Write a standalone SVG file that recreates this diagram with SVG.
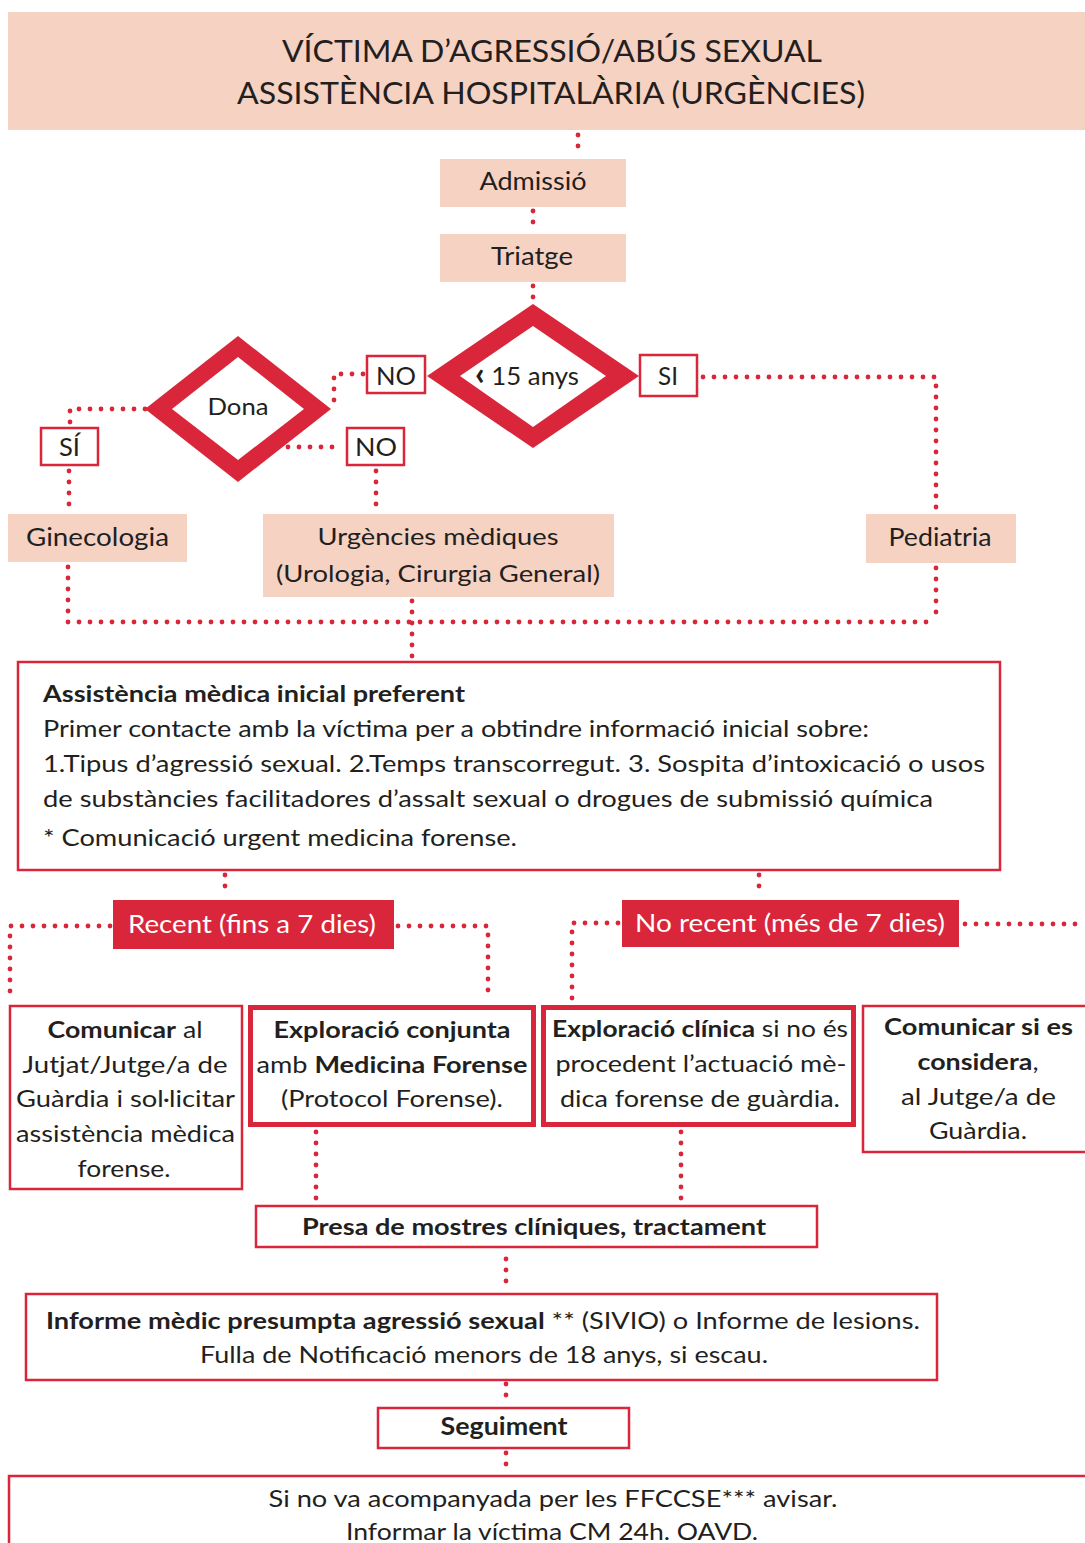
<svg xmlns="http://www.w3.org/2000/svg" width="1085" height="1543" viewBox="0 0 1085 1543">
<style>
  text { font-family: Lato, "Noto Sans", "Liberation Sans", sans-serif; fill: #231F20; }
  .c { text-anchor: middle; }
  .b { font-weight: 700; }
  .w { fill: #FFFFFF; }
  .pink { fill: #F6D2C3; }
  .box { fill: #FFFFFF; stroke: #D9263A; stroke-width: 2.5; }
  .thick { fill: #FFFFFF; stroke: #D9263A; stroke-width: 5; }
  .red { fill: #D9263A; }
  .dot { fill: none; stroke: #D9263A; stroke-width: 4.8; stroke-linecap: round; stroke-dasharray: 0 11; }
</style>
<rect width="1085" height="1543" fill="#FFFFFF"/>

<g id="connectors">
  <path class="dot" d="M578 135 V155"/>
  <path class="dot" d="M533 211 V230"/>
  <path class="dot" d="M533 286 V300"/>
  <path class="dot" d="M363 374 H334 V406"/>
  <path class="dot" d="M145 409 H70 V423"/>
  <path class="dot" d="M69 471 V510"/>
  <path class="dot" d="M288 447 H343"/>
  <path class="dot" d="M376 471 V510"/>
  <path class="dot" d="M703 377 H936 V510"/>
  <path class="dot" d="M936 568 V622"/>
  <path class="dot" d="M68 567 V622 H936"/>
  <path class="dot" d="M412 601 V657"/>
  <path class="dot" d="M225 875 V897"/>
  <path class="dot" d="M759 875 V897"/>
  <path class="dot" d="M110 926 H10 V1000"/>
  <path class="dot" d="M398 926 H488 V1000"/>
  <path class="dot" d="M618 923 H572 V1000"/>
  <path class="dot" d="M965 924 H1085"/>
  <path class="dot" d="M316 1132 V1200"/>
  <path class="dot" d="M681 1132 V1200"/>
  <path class="dot" d="M506 1259 V1289"/>
  <path class="dot" d="M506 1384 V1403"/>
  <path class="dot" d="M506 1453 V1471"/>
</g>

<g id="header">
  <rect class="pink" x="8" y="12" width="1085" height="118"/>
  <text class="c" x="552" y="62" font-size="31" textLength="540" lengthAdjust="spacingAndGlyphs">VÍCTIMA D’AGRESSIÓ/ABÚS SEXUAL</text>
  <text class="c" x="551" y="104" font-size="31" textLength="628" lengthAdjust="spacingAndGlyphs">ASSISTÈNCIA HOSPITALÀRIA (URGÈNCIES)</text>
</g>

<g id="admissio">
  <rect class="pink" x="440" y="159" width="186" height="48"/>
  <text class="c" x="533" y="190" font-size="25" textLength="107" lengthAdjust="spacingAndGlyphs">Admissió</text>
</g>

<g id="triatge">
  <rect class="pink" x="440" y="234" width="186" height="48"/>
  <text class="c" x="532" y="265" font-size="25" textLength="82" lengthAdjust="spacingAndGlyphs">Triatge</text>
</g>

<g id="decisio-15">
  <polygon class="red" points="533,304 639,376 533,448 427,376"/>
  <polygon fill="#FFFFFF" points="533,326 606,376 533,427 460,376"/>
  <text class="c" x="527" y="385" font-size="25" textLength="104" lengthAdjust="spacingAndGlyphs"><tspan font-weight="900" font-size="32">‹</tspan> 15 anys</text>
</g>

<g id="si">
  <rect class="box" x="640" y="355" width="57" height="41"/>
  <text class="c" x="668" y="385" font-size="25" textLength="20" lengthAdjust="spacingAndGlyphs">SI</text>
</g>

<g id="no-1">
  <rect class="box" x="367" y="356" width="58" height="37"/>
  <text class="c" x="396" y="385" font-size="25" textLength="40" lengthAdjust="spacingAndGlyphs">NO</text>
</g>

<g id="decisio-dona">
  <polygon class="red" points="238,336 331,409 238,482 145,409"/>
  <polygon fill="#FFFFFF" points="238,357 304,409 238,460 172,409"/>
  <text class="c" x="238" y="415" font-size="24" textLength="61" lengthAdjust="spacingAndGlyphs">Dona</text>
</g>

<g id="no-2">
  <rect class="box" x="347" y="428" width="57" height="37"/>
  <text class="c" x="376" y="456" font-size="25" textLength="42" lengthAdjust="spacingAndGlyphs">NO</text>
</g>

<g id="si-dona">
  <rect class="box" x="41" y="428" width="57" height="37"/>
  <text class="c" x="69.5" y="456" font-size="25" textLength="21" lengthAdjust="spacingAndGlyphs">SÍ</text>
</g>

<g id="ginecologia">
  <rect class="pink" x="8" y="514" width="179" height="48"/>
  <text class="c" x="97.5" y="546" font-size="25" textLength="143" lengthAdjust="spacingAndGlyphs">Ginecologia</text>
</g>

<g id="urgencies">
  <rect class="pink" x="263" y="514" width="351" height="83"/>
  <text class="c" x="438" y="545" font-size="24" textLength="241" lengthAdjust="spacingAndGlyphs">Urgències mèdiques</text>
  <text class="c" x="438" y="582" font-size="24" textLength="324" lengthAdjust="spacingAndGlyphs">(Urologia, Cirurgia General)</text>
</g>

<g id="pediatria">
  <rect class="pink" x="866" y="514" width="150" height="49"/>
  <text class="c" x="940" y="546" font-size="25" textLength="103" lengthAdjust="spacingAndGlyphs">Pediatria</text>
</g>

<g id="assistencia">
  <rect class="box" x="18" y="662" width="982" height="208"/>
  <text class="b" x="43" y="702" font-size="23" textLength="422" lengthAdjust="spacingAndGlyphs">Assistència mèdica inicial preferent</text>
  <text x="43" y="737" font-size="23" textLength="826" lengthAdjust="spacingAndGlyphs">Primer contacte amb la víctima per a obtindre informació inicial sobre:</text>
  <text x="43" y="772" font-size="23" textLength="942" lengthAdjust="spacingAndGlyphs">1.Tipus d’agressió sexual. 2.Temps transcorregut. 3. Sospita d’intoxicació o usos</text>
  <text x="43" y="807" font-size="23" textLength="890" lengthAdjust="spacingAndGlyphs">de substàncies facilitadores d’assalt sexual o drogues de submissió química</text>
  <text x="43" y="846" font-size="23" textLength="474" lengthAdjust="spacingAndGlyphs">* Comunicació urgent medicina forense.</text>
</g>

<g id="recent">
  <rect class="red" x="113" y="900" width="281" height="49"/>
  <text class="c w" x="252" y="933" font-size="25" textLength="248" lengthAdjust="spacingAndGlyphs">Recent (fins a 7 dies)</text>
</g>

<g id="no-recent">
  <rect class="red" x="622" y="900" width="337" height="47"/>
  <text class="c w" x="790" y="932" font-size="25" textLength="310" lengthAdjust="spacingAndGlyphs">No recent (més de 7 dies)</text>
</g>

<g id="comunicar-jutjat">
  <rect class="box" x="10" y="1006" width="232" height="183"/>
  <text class="c" x="125" y="1038" font-size="23" textLength="155" lengthAdjust="spacingAndGlyphs"><tspan class="b">Comunicar</tspan> al</text>
  <text class="c" x="125" y="1073" font-size="23" textLength="205" lengthAdjust="spacingAndGlyphs">Jutjat/Jutge/a de</text>
  <text class="c" x="125.5" y="1107" font-size="23" textLength="219" lengthAdjust="spacingAndGlyphs">Guàrdia i sol·licitar</text>
  <text class="c" x="125.5" y="1142" font-size="23" textLength="219" lengthAdjust="spacingAndGlyphs">assistència mèdica</text>
  <text class="c" x="124" y="1177" font-size="23" textLength="93" lengthAdjust="spacingAndGlyphs">forense.</text>
</g>

<g id="exploracio-conjunta">
  <rect class="thick" x="250.5" y="1007.5" width="283" height="117"/>
  <text class="c b" x="392" y="1038" font-size="23" textLength="237" lengthAdjust="spacingAndGlyphs">Exploració conjunta</text>
  <text class="c" x="392" y="1073" font-size="23" textLength="271" lengthAdjust="spacingAndGlyphs">amb <tspan class="b">Medicina Forense</tspan></text>
  <text class="c" x="392" y="1107" font-size="23" textLength="222" lengthAdjust="spacingAndGlyphs">(Protocol Forense).</text>
</g>

<g id="exploracio-clinica">
  <rect class="thick" x="543.5" y="1007.5" width="310" height="117"/>
  <text class="c" x="700" y="1037" font-size="23" textLength="296" lengthAdjust="spacingAndGlyphs"><tspan class="b">Exploració clínica</tspan> si no és</text>
  <text class="c" x="701" y="1072" font-size="23" textLength="291" lengthAdjust="spacingAndGlyphs">procedent l’actuació mè-</text>
  <text class="c" x="700" y="1107" font-size="23" textLength="280" lengthAdjust="spacingAndGlyphs">dica forense de guàrdia.</text>
</g>

<g id="comunicar-considera">
  <rect class="box" x="863" y="1006" width="240" height="146"/>
  <text class="c b" x="978.5" y="1035" font-size="23" textLength="189" lengthAdjust="spacingAndGlyphs">Comunicar si es</text>
  <text class="c" x="978" y="1070" font-size="23" textLength="121" lengthAdjust="spacingAndGlyphs"><tspan class="b">considera</tspan>,</text>
  <text class="c" x="978.5" y="1105" font-size="23" textLength="155" lengthAdjust="spacingAndGlyphs">al Jutge/a de</text>
  <text class="c" x="978" y="1139" font-size="23" textLength="98" lengthAdjust="spacingAndGlyphs">Guàrdia.</text>
</g>

<g id="presa">
  <rect class="box" x="256" y="1206" width="561" height="41"/>
  <text class="c b" x="534" y="1235" font-size="23" textLength="464" lengthAdjust="spacingAndGlyphs">Presa de mostres clíniques, tractament</text>
</g>

<g id="informe">
  <rect class="box" x="26" y="1294" width="911" height="86"/>
  <text class="c" x="483" y="1329" font-size="23" textLength="874" lengthAdjust="spacingAndGlyphs"><tspan class="b">Informe mèdic presumpta agressió sexual</tspan> ** (SIVIO) o Informe de lesions.</text>
  <text class="c" x="484" y="1363" font-size="23" textLength="568" lengthAdjust="spacingAndGlyphs">Fulla de Notificació menors de 18 anys, si escau.</text>
</g>

<g id="seguiment">
  <rect class="box" x="378" y="1408" width="251" height="40"/>
  <text class="c b" x="504" y="1435" font-size="24" textLength="127" lengthAdjust="spacingAndGlyphs">Seguiment</text>
</g>

<g id="final">
  <rect class="box" x="9" y="1476" width="1100" height="100"/>
  <text class="c" x="553" y="1507" font-size="23" textLength="569" lengthAdjust="spacingAndGlyphs">Si no va acompanyada per les FFCCSE*** avisar.</text>
  <text class="c" x="552" y="1540" font-size="23" textLength="412" lengthAdjust="spacingAndGlyphs">Informar la víctima CM 24h. OAVD.</text>
</g>
</svg>
